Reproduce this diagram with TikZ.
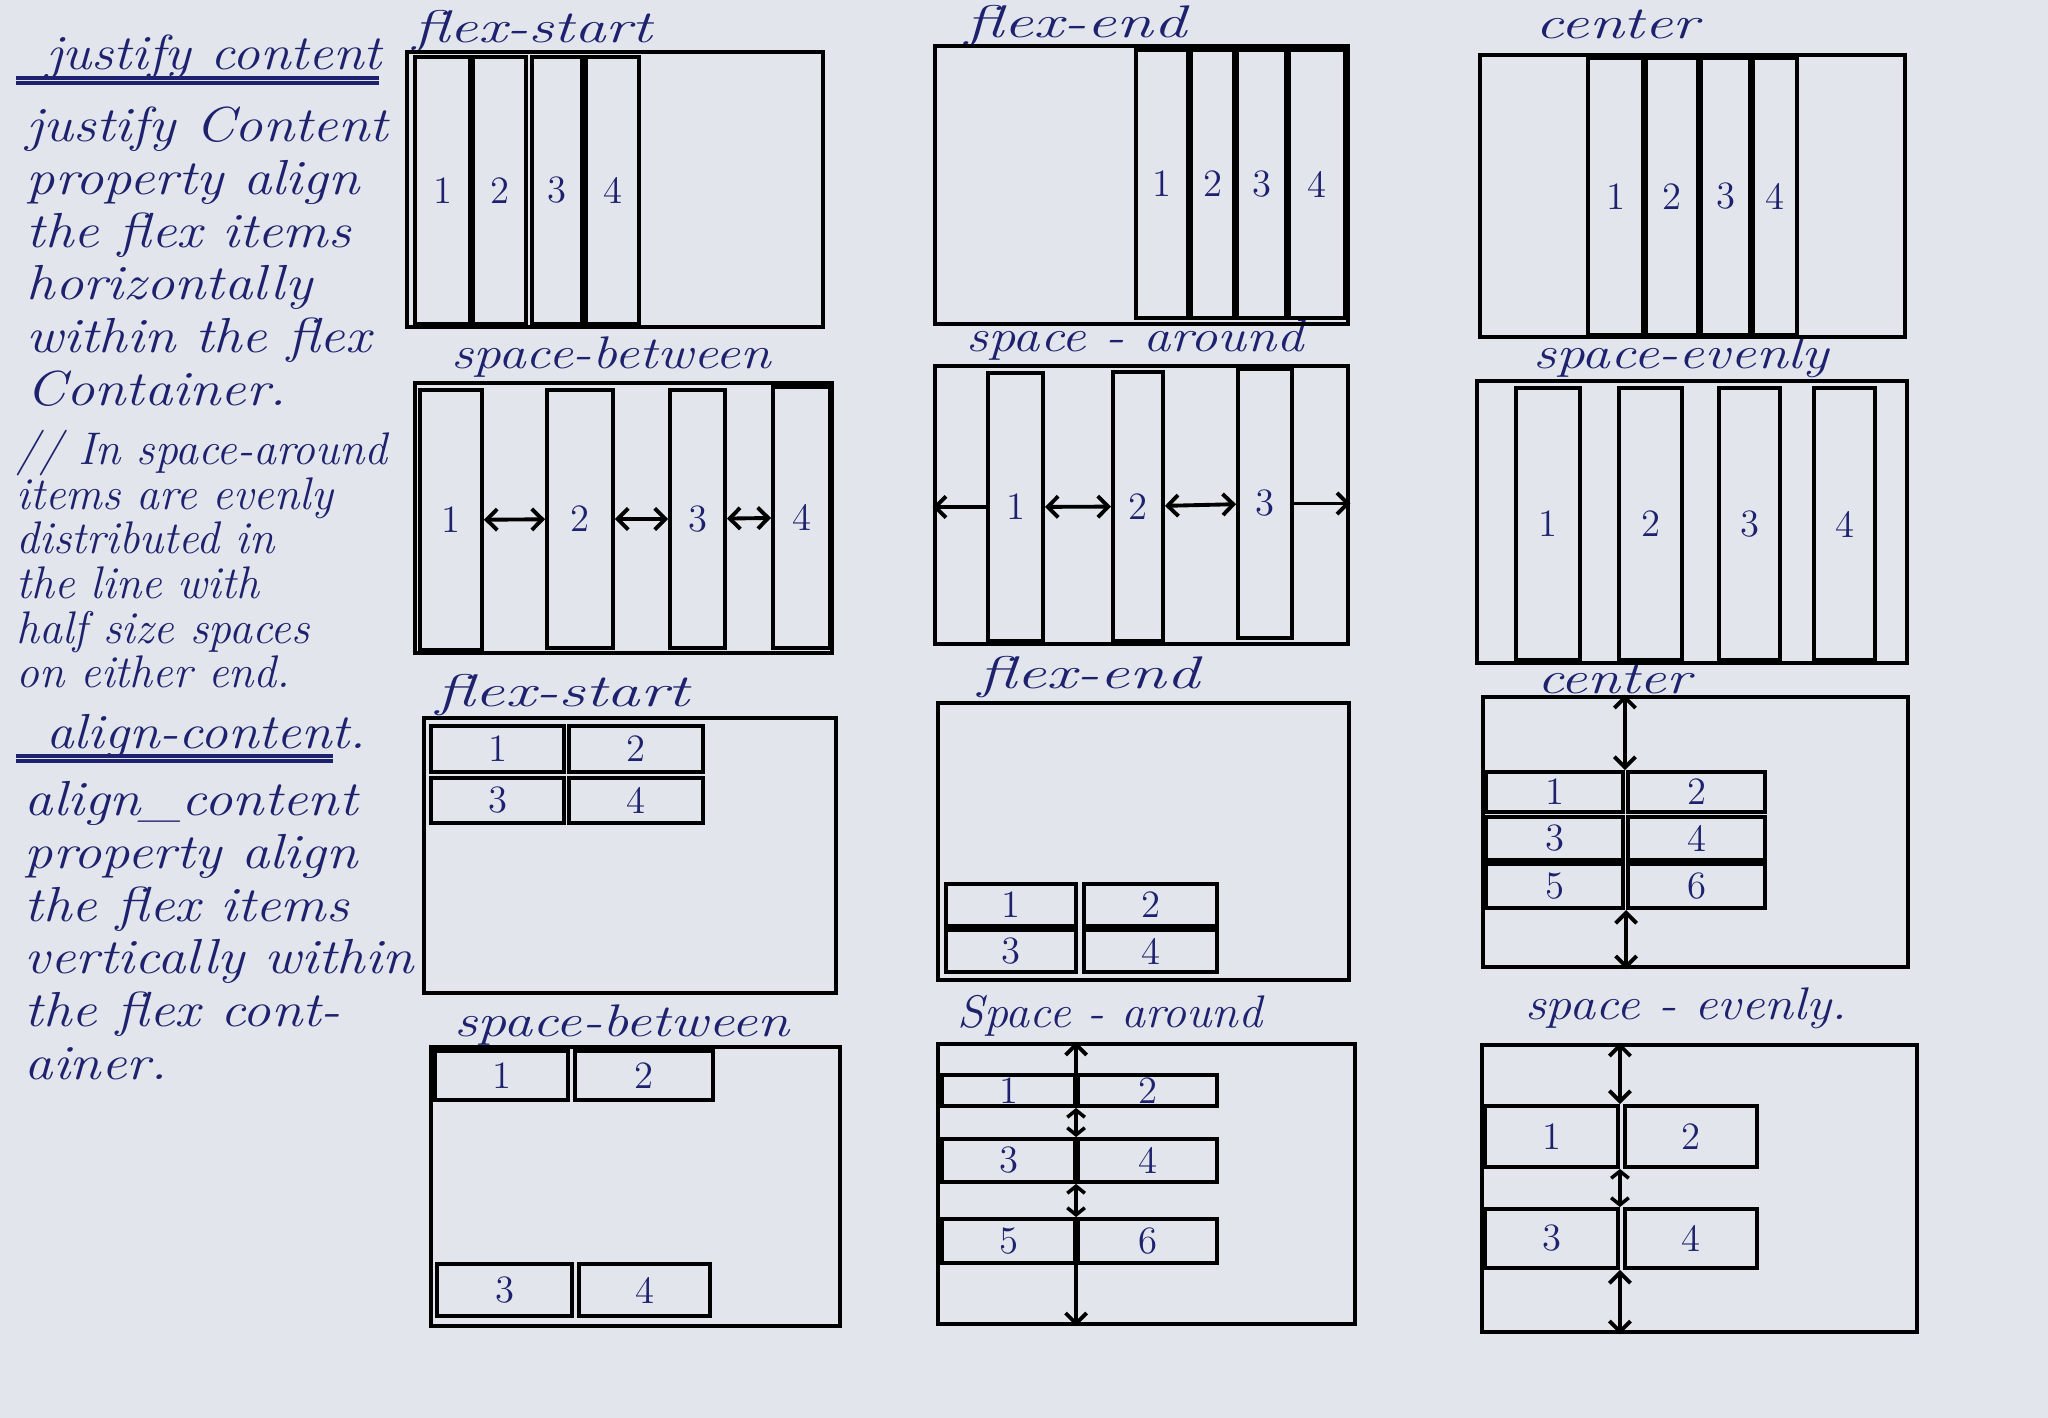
\documentclass[tikz,border=0pt]{standalone}
\usepackage{fontspec}
\usetikzlibrary{fit,arrows.meta}
\definecolor{ink}{RGB}{30,34,110}
\definecolor{paper}{RGB}{226,229,235}
\newcommand{\hand}{\fontsize{13}{15}\selectfont\itshape}
\newcommand{\handtext}{\fontsize{14}{15.0}\selectfont\itshape}
\newcommand{\wide}[2][1.3]{\scalebox{#1}[1]{#2}}

\begin{document}
\begin{tikzpicture}[x=0.01cm, y=-0.01cm, >={Straight Barb[length=3pt,width=6pt]},
    every label/.style={text=ink, font=\fontsize{11}{13}\selectfont, inner sep=0pt}]
    \tikzstyle{box} = [draw, line width=1.3pt, inner sep=0pt]
    \tikzstyle{item} = [draw, line width=1.1pt, inner sep=0pt]
    \tikzstyle{title} = [text=ink, font=\hand]
    \tikzstyle{note} = [text=ink, anchor=north west, inner sep=0pt]
    \tikzstyle{uline} = [ink, line width=0.9pt]
    \tikzstyle{la} = [<->, line width=1.1pt]
    \tikzstyle{sla} = [{Straight Barb[length=2pt,width=5pt]}-{Straight Barb[length=2pt,width=5pt]}, line width=1pt]
    \tikzstyle{ra} = [->, line width=1.1pt]
    \useasboundingbox (0,0) rectangle (2048,1418);
    \fill[paper] (0,0) rectangle (2048,1418);
    \node[title, font=\handtext, anchor=base west] (jhead) at (34,70) {\wide[1.12]{justify content}};
    \draw[uline] (16,78) -- (379,78);
    \draw[uline] (16,83) -- (379,83);
    \node[note, font=\handtext] (jtext) at (26,104) {\wide[1.15]{\begin{tabular}{@{}l@{}}justify Content\\property align\\the flex items\\horizontally\\within the flex\\Container.\end{tabular}}};
    \node[note, font=\fontsize{13}{12.1}\selectfont\itshape] (atext) at (16,430) {\begin{tabular}{@{}l@{}}// In space-around\\items are evenly\\distributed in\\the line with\\half size spaces\\on either end.\end{tabular}};
    \node[title, font=\handtext, anchor=base west] (ahead) at (34,748) {\wide[1.12]{align-content.}};
    \draw[uline] (16,756) -- (333,756);
    \draw[uline] (16,761) -- (333,761);
    \node[note, font=\handtext] (ctext) at (24,778) {\wide[1.15]{\begin{tabular}{@{}l@{}}align\_content\\property align\\the flex items\\vertically within\\the flex cont-\\ainer.\end{tabular}}};
    \node[title] (t-jfs) at (533,31) {\wide[1.38]{flex-start}};
    \node[title] (t-jfe) at (1076,26) {\wide[1.45]{flex-end}};
    \node[title] (t-jc) at (1617,24) {\wide[1.38]{center}};
    \node[title] (t-jsb) at (611,357) {\wide[1.21]{space-between}};
    \node[title] (t-jsa) at (1135,340) {\wide[1.19]{space - around}};
    \node[title] (t-jse) at (1681,357) {\wide[1.25]{space-evenly}};
    \node[title] (t-afs) at (563,695) {\wide[1.46]{flex-start}};
    \node[title] (t-afe) at (1089,677) {\wide[1.45]{flex-end}};
    \node[title] (t-ac) at (1614,679) {\wide[1.3]{center}};
    \node[title] (t-asb) at (622,1025) {\wide[1.27]{space-between}};
    \node[title] (t-asa) at (1110,1016) {\wide[1.05]{Space - around}};
    \node[title] (t-ase) at (1686,1008) {\wide[1.14]{space - evenly.}};
    \node[box, fit={(407,52) (823,327)}] (jfs) {};
    \node[item, fit={(415,57) (470,324)}, label=center:1] (jfs-1) {};
    \node[item, fit={(473,57) (526,324)}, label=center:2] (jfs-2) {};
    \node[item, fit={(532,57) (582,324)}, label=center:3] (jfs-3) {};
    \node[item, fit={(586,57) (639,324)}, label=center:4] (jfs-4) {};
    \node[box, fit={(935,46) (1348,324)}] (jfe) {};
    \node[item, fit={(1136,50) (1188,318)}, label=center:1] (jfe-1) {};
    \node[item, fit={(1191,50) (1234,318)}, label=center:2] (jfe-2) {};
    \node[item, fit={(1237,50) (1286,318)}, label=center:3] (jfe-3) {};
    \node[item, fit={(1289,50) (1345,318)}, label=center:4] (jfe-4) {};
    \node[box, fit={(1480,55) (1905,337)}] (jc) {};
    \node[item, fit={(1588,58) (1643,335)}, label=center:1] (jc-1) {};
    \node[item, fit={(1646,58) (1698,335)}, label=center:2] (jc-2) {};
    \node[item, fit={(1701,58) (1750,335)}, label=center:3] (jc-3) {};
    \node[item, fit={(1753,58) (1797,335)}, label=center:4] (jc-4) {};
    \node[box, fit={(415,383) (832,653)}] (jsb) {};
    \node[item, fit={(420,390) (482,650)}, label=center:1] (jsb-1) {};
    \node[item, fit={(547,390) (613,648)}, label=center:2] (jsb-2) {};
    \node[item, fit={(670,390) (725,648)}, label=center:3] (jsb-3) {};
    \node[item, fit={(773,387) (830,648)}, label=center:4] (jsb-4) {};
    \draw[la] (jsb-1) -- (jsb-2);
    \draw[la] (jsb-2) -- (jsb-3);
    \draw[la] (jsb-3) -- (jsb-4);
    \node[box, fit={(935,366) (1348,644)}] (jsa) {};
    \node[item, fit={(988,373) (1043,641)}, label=center:1] (jsa-1) {};
    \node[item, fit={(1113,372) (1163,641)}, label=center:2] (jsa-2) {};
    \node[item, fit={(1238,369) (1292,638)}, label=center:3] (jsa-3) {};
    \draw[ra] (jsa-1.west) -- (jsa-1.west -| jsa.west);
    \draw[la] (jsa-1) -- (jsa-2);
    \draw[la] (jsa-2) -- (jsa-3);
    \draw[ra] (jsa-3.east) -- (jsa-3.east -| jsa.east);
    \node[box, fit={(1477,381) (1907,663)}] (jse) {};
    \node[item, fit={(1516,388) (1580,660)}, label=center:1] (jse-1) {};
    \node[item, fit={(1619,388) (1682,660)}, label=center:2] (jse-2) {};
    \node[item, fit={(1719,388) (1780,660)}, label=center:3] (jse-3) {};
    \node[item, fit={(1814,388) (1875,660)}, label=center:4] (jse-4) {};
    \node[box, fit={(424,718) (836,993)}] (afs) {};
    \node[item, fit={(431,726) (564,772)}, label=center:1] (afs-1) {};
    \node[item, fit={(569,726) (703,772)}, label=center:2] (afs-2) {};
    \node[item, fit={(431,778) (564,823)}, label=center:3] (afs-3) {};
    \node[item, fit={(569,778) (703,823)}, label=center:4] (afs-4) {};
    \node[box, fit={(938,703) (1349,980)}] (afe) {};
    \node[item, fit={(946,884) (1076,926)}, label=center:1] (afe-1) {};
    \node[item, fit={(1084,884) (1217,926)}, label=center:2] (afe-2) {};
    \node[item, fit={(946,930) (1076,972)}, label=center:3] (afe-3) {};
    \node[item, fit={(1084,930) (1217,972)}, label=center:4] (afe-4) {};
    \node[box, fit={(1483,697) (1908,967)}] (ac) {};
    \node[item, fit={(1486,772) (1623,812)}, label=center:1] (ac-1) {};
    \node[item, fit={(1628,772) (1765,812)}, label=center:2] (ac-2) {};
    \node[item, fit={(1486,817) (1623,860)}, label=center:3] (ac-3) {};
    \node[item, fit={(1628,817) (1765,860)}, label=center:4] (ac-4) {};
    \node[item, fit={(1486,864) (1623,908)}, label=center:5] (ac-5) {};
    \node[item, fit={(1628,864) (1765,908)}, label=center:6] (ac-6) {};
    \draw[la] (ac.north -| ac-1.east) -- (ac-1.north east);
    \draw[la] (ac-6.south west) -- (ac-6.south west |- ac.south);
    \node[box, fit={(431,1047) (840,1326)}] (asb) {};
    \node[item, fit={(435,1051) (568,1100)}, label=center:1] (asb-1) {};
    \node[item, fit={(575,1051) (713,1100)}, label=center:2] (asb-2) {};
    \node[item, fit={(437,1264) (572,1316)}, label=center:3] (asb-3) {};
    \node[item, fit={(579,1264) (710,1316)}, label=center:4] (asb-4) {};
    \node[box, fit={(938,1044) (1355,1324)}] (asa) {};
    \node[item, fit={(942,1075) (1075,1106)}, label=center:1] (asa-1) {};
    \node[item, fit={(1078,1075) (1217,1106)}, label=center:2] (asa-2) {};
    \node[item, fit={(942,1139) (1075,1182)}, label=center:3] (asa-3) {};
    \node[item, fit={(1078,1139) (1217,1182)}, label=center:4] (asa-4) {};
    \node[item, fit={(942,1219) (1075,1263)}, label=center:5] (asa-5) {};
    \node[item, fit={(1078,1219) (1217,1263)}, label=center:6] (asa-6) {};
    \draw[ra] (asa-2.north west) -- (asa-2.north west |- asa.north);
    \draw[sla] (asa-2.south west) -- (asa-4.north west);
    \draw[sla] (asa-4.south west) -- (asa-6.north west);
    \draw[ra] (asa-6.south west) -- (asa-6.south west |- asa.south);
    \node[box, fit={(1482,1045) (1917,1332)}] (ase) {};
    \node[item, fit={(1485,1106) (1618,1167)}, label=center:1] (ase-1) {};
    \node[item, fit={(1625,1106) (1757,1167)}, label=center:2] (ase-2) {};
    \node[item, fit={(1485,1209) (1618,1268)}, label=center:3] (ase-3) {};
    \node[item, fit={(1625,1209) (1757,1268)}, label=center:4] (ase-4) {};
    \draw[la] (ase.north -| ase-1.east) -- (ase-1.north east);
    \draw[sla] (ase-1.south east) -- (ase-3.north east);
    \draw[la] (ase-3.south east) -- (ase-3.south east |- ase.south);
\end{tikzpicture}
\end{document}
